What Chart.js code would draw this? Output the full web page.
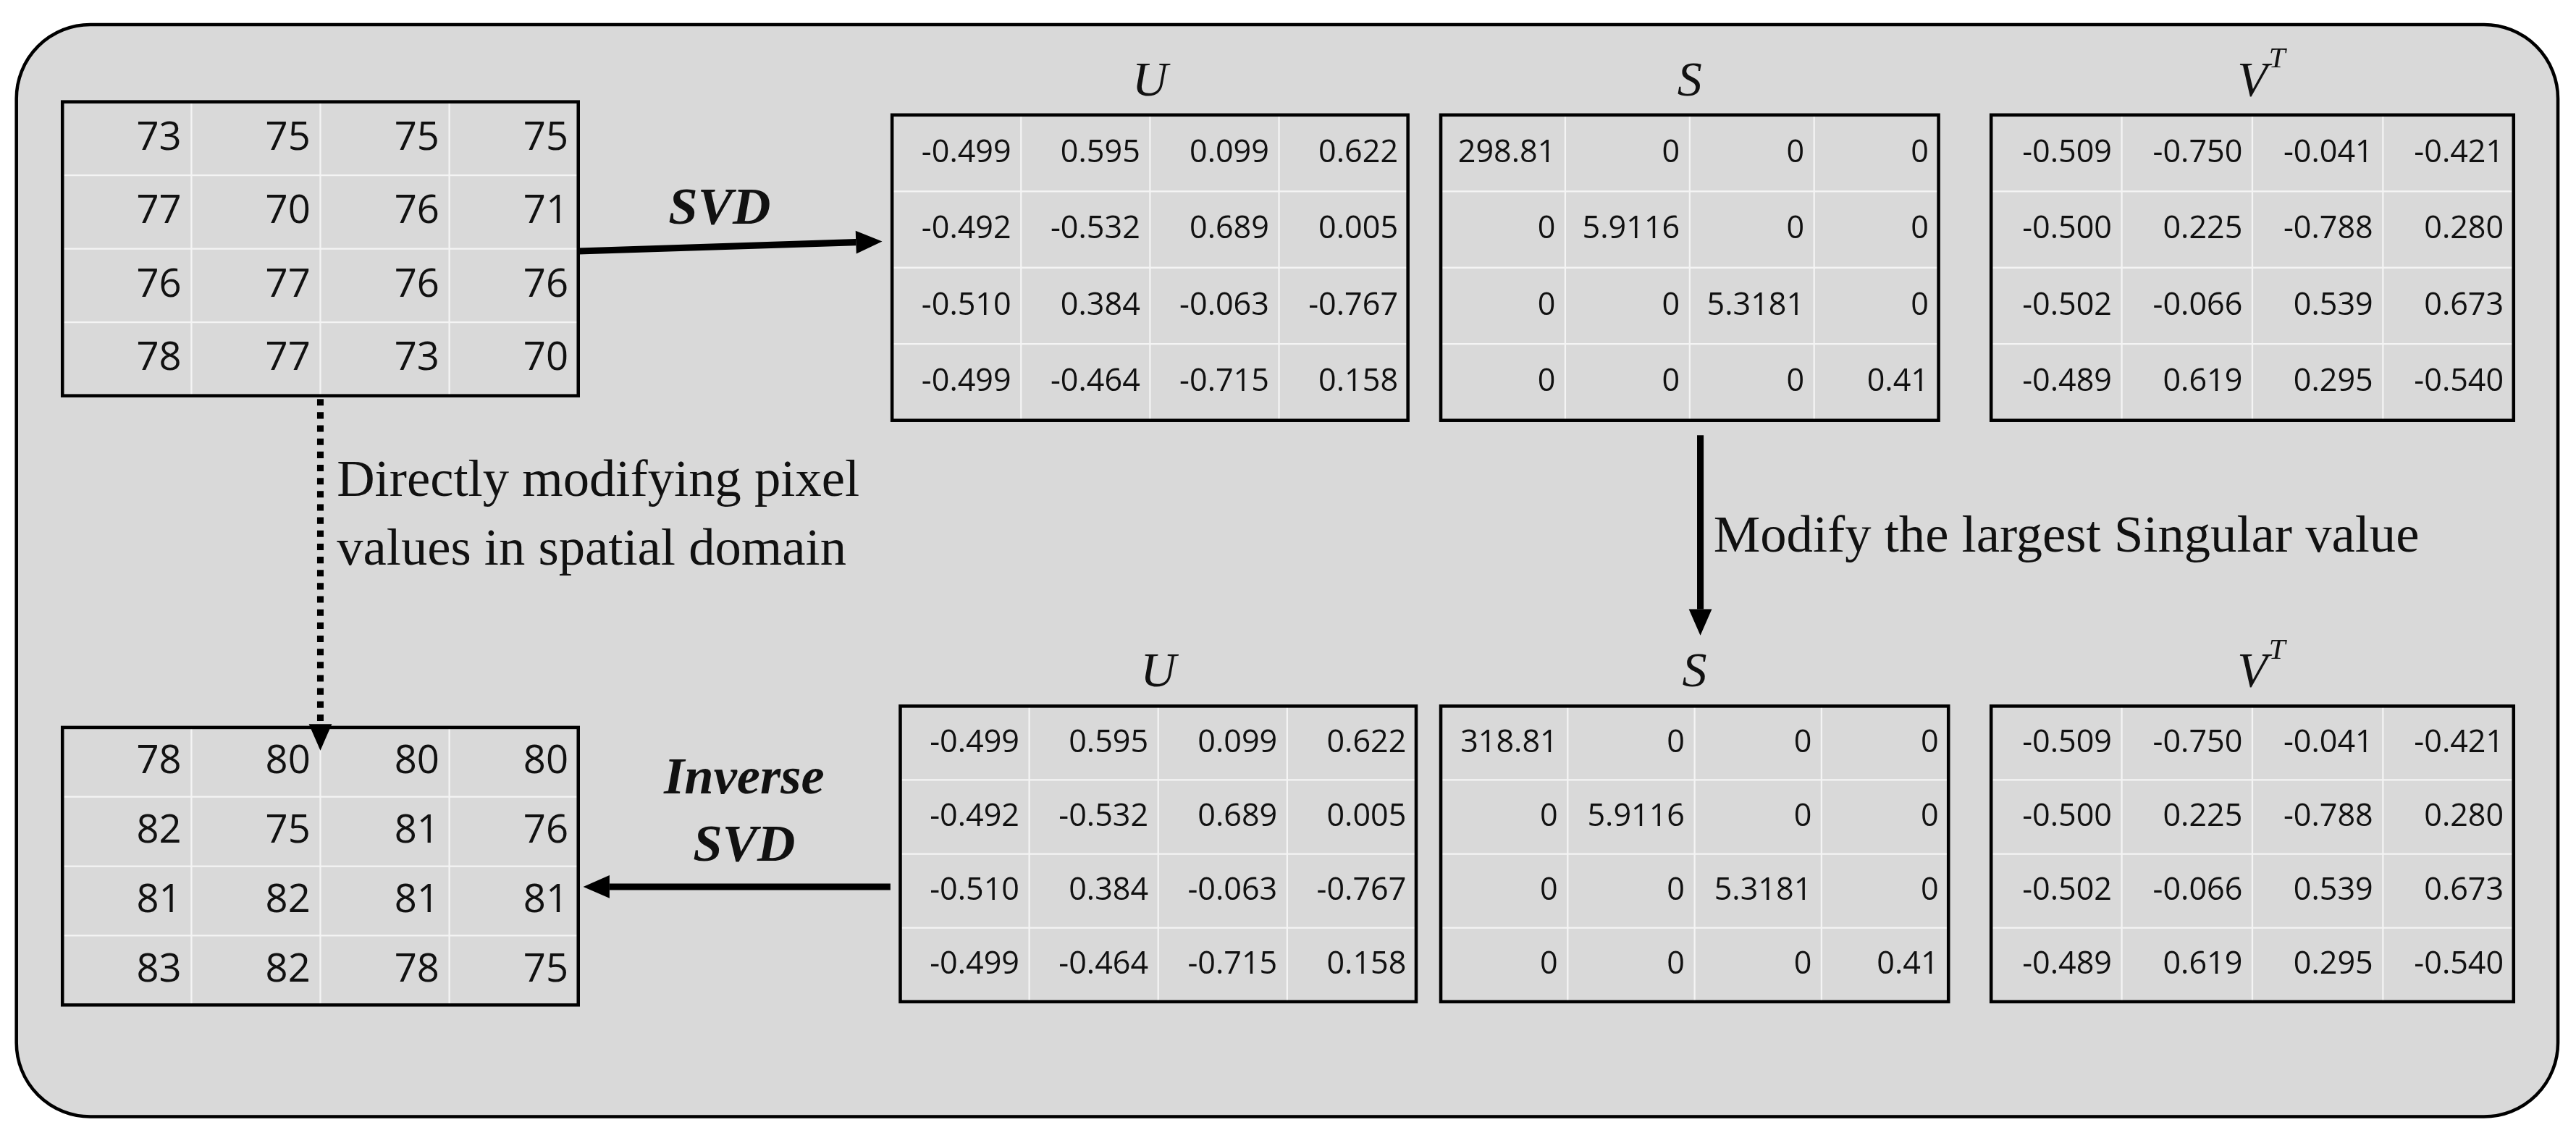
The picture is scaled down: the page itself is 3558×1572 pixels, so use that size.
<!DOCTYPE html>
<html><head><meta charset="utf-8">
<script src="https://cdn.jsdelivr.net/npm/chart.js@4"></script>
<style>html,body{margin:0;background:#fff}#wrap{width:3558px;height:1572px}</style>
</head><body><div id="wrap"><canvas id="c"></canvas></div>
<script>
// matrix values
var pixelsBefore = [[73,75,75,75],[77,70,76,71],[76,77,76,76],[78,77,73,70]];
var pixelsAfter = [[78,80,80,80],[82,75,81,76],[81,82,81,81],[83,82,78,75]];
var U = [['-0.499','0.595','0.099','0.622'],['-0.492','-0.532','0.689','0.005'],['-0.510','0.384','-0.063','-0.767'],['-0.499','-0.464','-0.715','0.158']];
var S = [['298.81','0','0','0'],['0','5.9116','0','0'],['0','0','5.3181','0'],['0','0','0','0.41']];
var S2 = [['318.81','0','0','0'],['0','5.9116','0','0'],['0','0','5.3181','0'],['0','0','0','0.41']];
var VT = [['-0.509','-0.750','-0.041','-0.421'],['-0.500','0.225','-0.788','0.280'],['-0.502','-0.066','0.539','0.673'],['-0.489','0.619','0.295','-0.540']];

// layout boxes [x0,y0,x1,y1] in 1568x693 units
var boxes = [
  {m:pixelsBefore, b:[38,62,352,241], fs:24},
  {m:U, b:[543,70,857,256], fs:19, label:'U'},
  {m:S, b:[877,70,1180,256], fs:19, label:'S'},
  {m:VT, b:[1212,70,1530,256], fs:19, label:'V'},
  {m:pixelsAfter, b:[38,443,352,612], fs:24},
  {m:U, b:[548,430,862,610], fs:19, label:'U'},
  {m:S2, b:[877,430,1186,610], fs:19, label:'S'},
  {m:VT, b:[1212,430,1530,610], fs:19, label:'V'}
];

var diagram = {
  id:'diagram',
  afterDraw: function(chart){
    var ctx = chart.ctx, xs = chart.scales.x, ys = chart.scales.y;
    var X = function(v){return xs.getPixelForValue(v);};
    var Y = function(v){return ys.getPixelForValue(v);};
    var k = X(1)-X(0);
    ctx.save();
    // outer rounded panel
    ctx.beginPath();
    ctx.roundRect(X(10),Y(15),X(1557)-X(10),Y(680)-Y(15),45*k);
    ctx.fillStyle='#d9d9d9'; ctx.fill();
    ctx.lineWidth=2*k; ctx.strokeStyle='#000'; ctx.stroke();

    boxes.forEach(function(bx){
      var b=bx.b, w=(b[2]-b[0])/4, h=(b[3]-b[1])/4;
      ctx.strokeStyle='#f4f4f4'; ctx.lineWidth=1*k;
      for(var i=1;i<4;i++){
        ctx.beginPath(); ctx.moveTo(X(b[0]+i*w),Y(b[1])); ctx.lineTo(X(b[0]+i*w),Y(b[3])); ctx.stroke();
        ctx.beginPath(); ctx.moveTo(X(b[0]),Y(b[1]+i*h)); ctx.lineTo(X(b[2]),Y(b[1]+i*h)); ctx.stroke();
      }
      ctx.strokeStyle='#000'; ctx.lineWidth=2*k;
      ctx.strokeRect(X(b[0]),Y(b[1]),X(b[2])-X(b[0]),Y(b[3])-Y(b[1]));
      ctx.fillStyle='#111';
      ctx.font=(bx.fs*k)+'px "Liberation Sans Narrow","Open Sans",sans-serif';
      ctx.textAlign='right'; ctx.textBaseline='middle';
      for(var r=0;r<4;r++)for(var c=0;c<4;c++)
        ctx.fillText(String(bx.m[r][c]),X(b[0]+(c+1)*w-6),Y(b[1]+(r+0.5)*h));
      if(bx.label){
        var cx=(b[0]+b[2])/2;
        ctx.textAlign='center'; ctx.textBaseline='alphabetic';
        ctx.font='italic '+(30*k)+'px "Liberation Serif",serif';
        ctx.fillText(bx.label,X(cx),Y(b[1]-12));
        if(bx.label==='V'){
          ctx.font='italic '+(18*k)+'px "Liberation Serif",serif';
          ctx.fillText('T',X(cx+15),Y(b[1]-29));
        }
      }
    });

    function arrow(x0,y0,x1,y1,dash){
      ctx.strokeStyle='#000'; ctx.fillStyle='#000'; ctx.lineWidth=4*k;
      ctx.setLineDash(dash?[4*k,4*k]:[]);
      var a=Math.atan2(Y(y1)-Y(y0),X(x1)-X(x0)), L=16*k;
      ctx.beginPath(); ctx.moveTo(X(x0),Y(y0));
      ctx.lineTo(X(x1)-Math.cos(a)*L,Y(y1)-Math.sin(a)*L); ctx.stroke();
      ctx.setLineDash([]);
      ctx.beginPath(); ctx.moveTo(X(x1),Y(y1));
      ctx.lineTo(X(x1)-L*Math.cos(a)+7*k*Math.sin(a),Y(y1)-L*Math.sin(a)-7*k*Math.cos(a));
      ctx.lineTo(X(x1)-L*Math.cos(a)-7*k*Math.sin(a),Y(y1)-L*Math.sin(a)+7*k*Math.cos(a));
      ctx.closePath(); ctx.fill();
    }
    arrow(352,153,537,147,false);
    arrow(1035,265,1035,387,false);
    arrow(195,243,195,457,true);
    arrow(542,540,355,540,false);

    ctx.fillStyle='#111'; ctx.textBaseline='alphabetic';
    ctx.font='bold italic '+(32*k)+'px "Liberation Serif",serif';
    ctx.textAlign='center';
    ctx.fillText('SVD',X(438),Y(136));
    ctx.fillText('Inverse',X(453),Y(483));
    ctx.fillText('SVD',X(453),Y(524));
    ctx.font=(32*k)+'px "Liberation Serif",serif';
    ctx.textAlign='left';
    ctx.fillText('Modify the largest Singular value',X(1043),Y(336));
    ctx.fillText('Directly modifying pixel',X(205),Y(302));
    ctx.fillText('values in spatial domain',X(205),Y(344));
    ctx.restore();
  }
};

new Chart(document.getElementById('c'),{
  type:'scatter',
  data:{datasets:[{data:[]}]},
  options:{
    responsive:true, maintainAspectRatio:false, animation:false,
    layout:{padding:0},
    plugins:{legend:{display:false},tooltip:{enabled:false}},
    scales:{
      x:{type:'linear',min:0,max:1568,display:false},
      y:{type:'linear',min:0,max:693,reverse:true,display:false}
    }
  },
  plugins:[diagram]
});
</script></body></html>
